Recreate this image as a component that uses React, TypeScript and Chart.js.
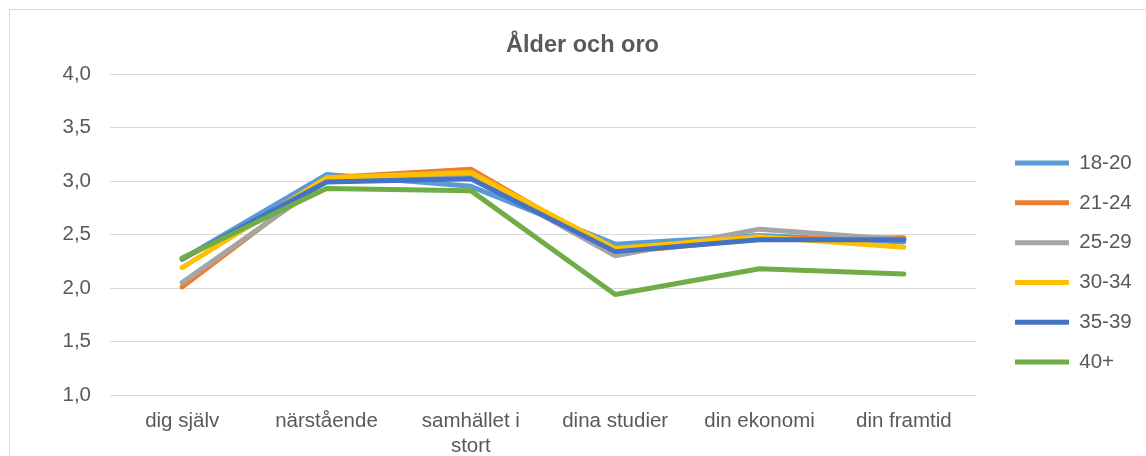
import React, { useEffect, useRef } from "react";
import { Chart, registerables } from "chart.js";

Chart.register(...registerables);

const title = "Ålder och oro";
const categories: (string | string[])[] = [
  "dig själv",
  "närstående",
  ["samhället i", "stort"],
  "dina studier",
  "din ekonomi",
  "din framtid",
];
const seriesNames = ["18-20", "21-24", "25-29", "30-34", "35-39", "40+"];
const s18_20 = [2.27, 3.06, 2.95, 2.41, 2.49, 2.43];
const s21_24 = [2.01, 3.03, 3.11, 2.33, 2.46, 2.47];
const s25_29 = [2.05, 3.0, 3.05, 2.3, 2.55, 2.45];
const s30_34 = [2.19, 3.03, 3.08, 2.37, 2.48, 2.38];
const s35_39 = [2.27, 2.99, 3.02, 2.34, 2.45, 2.45];
const s40 = [2.28, 2.93, 2.91, 1.94, 2.18, 2.13];
const seriesColors = ["#5B9BD5", "#ED7D31", "#A5A5A5", "#FFC000", "#4472C4", "#70AD47"];
const yMin = 1;
const yMax = 4;
const yStep = 0.5;

const W = 1165;
const H = 456;
const TEXT = "#595959";
const FONT = "'Liberation Sans', Arial, sans-serif";

export default function App() {
  const ref = useRef<HTMLCanvasElement>(null);
  useEffect(() => {
    if (!ref.current) return;
    const all = [s18_20, s21_24, s25_29, s30_34, s35_39, s40];
    const placeBoxes = {
      id: "placeBoxes",
      beforeDraw(chart: any) {
        const lg = chart.legend;
        if (lg) {
          lg.left = 995.7;
          lg.right = W;
          lg.top = 133.5;
          lg.bottom = H;
        }
        const t = chart.titleBlock;
        if (t) {
          t.left = 0;
          t.right = W;
          t.width = W;
        }
      },
    };
    const chart = new Chart(ref.current, {
      type: "line",
      data: {
        labels: categories as any,
        datasets: all.map((d, i) => ({
          label: seriesNames[i],
          data: d,
          borderColor: seriesColors[i],
          backgroundColor: seriesColors[i],
          borderWidth: 5,
          borderCapStyle: "round",
          borderJoinStyle: "round",
          pointRadius: 0,
          pointHoverRadius: 0,
          tension: 0,
          fill: false,
          order: all.length - 1 - i,
        })) as any,
      },
      options: {
        animation: false,
        responsive: false,
        devicePixelRatio: 1,
        layout: { padding: { left: 0, right: 188, top: 0, bottom: 0 } },
        plugins: {
          tooltip: { enabled: false },
          title: {
            display: true,
            text: title,
            color: TEXT,
            font: { family: FONT, size: 23.5, weight: "bold" },
            padding: { top: 31, bottom: 14.8 },
          },
          legend: {
            display: true,
            position: "right",
            align: "start",
            maxWidth: 1,
            labels: {
              usePointStyle: true,
              pointStyle: "line",
              pointStyleWidth: 54,
              padding: 19.3,
              color: TEXT,
              font: { family: FONT, size: 20.5 },
              sort: (a: any, b: any) => a.datasetIndex - b.datasetIndex,
            },
          } as any,
        },
        scales: {
          x: {
            type: "category",
            offset: true,
            grid: { display: false, drawTicks: false },
            border: { display: false },
            ticks: {
              color: TEXT,
              font: { family: FONT, size: 20.5 },
              padding: 14,
              maxRotation: 0,
              autoSkip: false,
            },
            afterFit(scale: any) {
              scale.height = 61;
            },
          },
          y: {
            min: yMin,
            max: yMax,
            grid: { color: "#D9D9D9", lineWidth: 1, drawTicks: false },
            border: { display: false },
            ticks: {
              stepSize: yStep,
              color: TEXT,
              font: { family: FONT, size: 20.5 },
              padding: 19,
              callback: (v: any) => Number(v).toFixed(1).replace(".", ","),
            },
            afterFit(scale: any) {
              scale.width = 110;
            },
          },
        },
      },
      plugins: [placeBoxes],
    });
    return () => chart.destroy();
  }, []);

  return (
    <div
      style={{
        position: "absolute",
        left: 0,
        top: 0,
        width: 1146,
        height: 456,
        overflow: "hidden",
        background: "#fff",
      }}
    >
      <div
        style={{
          position: "absolute",
          left: 9,
          top: 9,
          width: 1160,
          height: 480,
          border: "1px solid #D9D9D9",
          boxSizing: "border-box",
        }}
      />
      <canvas
        ref={ref}
        width={W}
        height={H}
        style={{ position: "absolute", left: 0, top: 0, width: W, height: H }}
      />
    </div>
  );
}
